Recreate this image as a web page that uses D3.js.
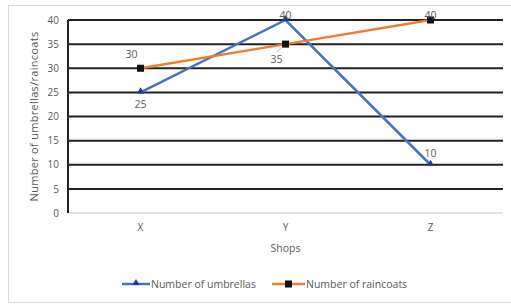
<!DOCTYPE html>
<html><head><meta charset="utf-8">
<script src="https://cdn.jsdelivr.net/npm/d3@7"></script>
<style>body{margin:0;background:#fff}svg{display:block}text{font-family:"Open Sans",Lato,sans-serif;fill:#595959}</style>
</head><body><svg id="c" width="511" height="305"></svg>
<script>
const shops = ["X","Y","Z"];
const umbrellas = [25,40,10];
const raincoats = [30,35,40];
const yTicks = [0,5,10,15,20,25,30,35,40];
const seriesNames = ["Number of umbrellas","Number of raincoats"];

const svg = d3.select("#c");
const L=68,R=503,T=20,B=213;
svg.append("rect").attr("x",8.5).attr("y",5.5).attr("width",520).attr("height",297).attr("fill","none").attr("stroke","#d9d9d9");
const x = d3.scaleBand().domain(shops).range([L,R]);
const y = d3.scaleLinear().domain([0,40]).range([B,T]);
const cx = d => x(d)+x.bandwidth()/2;

svg.append("g").selectAll("line").data(yTicks.filter(v=>v>0)).join("line")
 .attr("x1",L).attr("x2",R).attr("y1",d=>y(d)).attr("y2",d=>y(d))
 .attr("stroke","#222").attr("stroke-width",2);
svg.append("line").attr("x1",L).attr("x2",R).attr("y1",y(0)).attr("y2",y(0)).attr("stroke","#d9d9d9").attr("stroke-width",1.5);
svg.append("line").attr("x1",L).attr("x2",L).attr("y1",y(40)).attr("y2",y(0)).attr("stroke","#222").attr("stroke-width",2);

const ya = svg.append("g").attr("transform",`translate(${L},0)`).call(d3.axisLeft(y).tickValues(yTicks).tickSize(0).tickPadding(9));
ya.select(".domain").remove();
ya.selectAll("text").attr("font-size",10).style("font-family","'Open Sans',Lato,sans-serif").attr("fill","#7f7f7f");
const xa = svg.append("g").attr("transform",`translate(0,${B})`).call(d3.axisBottom(x).tickSize(0).tickPadding(11));
xa.select(".domain").remove();
xa.selectAll("text").attr("font-size",10).style("font-family","'Open Sans',Lato,sans-serif").attr("fill","#7f7f7f");

svg.append("text").attr("x",cx("Y")).attr("y",252).attr("text-anchor","middle").attr("font-size",10.5).text("Shops");
svg.append("text").attr("transform",`translate(38,${(T+B)/2}) rotate(-90)`).attr("text-anchor","middle").attr("font-size",11).attr("letter-spacing",0.3).text("Number of umbrellas/raincoats");

const line = d3.line().x((d,i)=>cx(shops[i])).y(d=>y(d));
svg.append("path").datum(umbrellas).attr("d",line).attr("fill","none").attr("stroke","#4472C4").attr("stroke-width",2.5);
svg.append("path").datum(raincoats).attr("d",line).attr("fill","none").attr("stroke","#ED7D31").attr("stroke-width",2.5);

const tri = d3.symbol().type(d3.symbolTriangle).size(22);
svg.append("g").selectAll("path").data(umbrellas).join("path").attr("d",tri)
 .attr("transform",(d,i)=>`translate(${cx(shops[i])},${y(d)-1})`).attr("fill","#1f3c88");
svg.append("g").selectAll("rect").data(raincoats).join("rect")
 .attr("x",(d,i)=>cx(shops[i])-3.5).attr("y",d=>y(d)-3.5).attr("width",7).attr("height",7).attr("fill","#111");

const uOff = [[0,16],[0,-1],[0,-8]];
const rOff = [[-9,-10],[-9,19],[0,-1]];
svg.append("g").selectAll("text").data(umbrellas).join("text")
 .attr("x",(d,i)=>cx(shops[i])+uOff[i][0]).attr("y",(d,i)=>y(d)+uOff[i][1]).attr("text-anchor","middle").attr("font-size",10.5).text(d=>d);
svg.append("g").selectAll("text").data(raincoats).join("text")
 .attr("x",(d,i)=>cx(shops[i])+rOff[i][0]).attr("y",(d,i)=>y(d)+rOff[i][1]).attr("text-anchor","middle").attr("font-size",10.5).text(d=>d);
svg.append("line").attr("x1",cx("Y")-9).attr("y1",y(35)+8).attr("x2",cx("Y")-3).attr("y2",y(35)+3).attr("stroke","#aaa").attr("stroke-width",0.8);

const lg = svg.append("g");
[[122,150,"#4472C4","tri"],[272,305,"#ED7D31","sq"]].forEach((o,i)=>{
  const m=(o[0]+o[1])/2;
  lg.append("line").attr("x1",o[0]).attr("x2",o[1]).attr("y1",284).attr("y2",284).attr("stroke",o[2]).attr("stroke-width",2.5);
  if(o[3]==="tri") lg.append("path").attr("d",tri).attr("transform",`translate(${m},283)`).attr("fill","#1f3c88");
  else lg.append("rect").attr("x",m-3.5).attr("y",280.5).attr("width",7).attr("height",7).attr("fill","#111");
  lg.append("text").attr("x",o[1]+1).attr("y",287.5).attr("font-size",10.5).text(seriesNames[i]);
});
</script></body></html>
